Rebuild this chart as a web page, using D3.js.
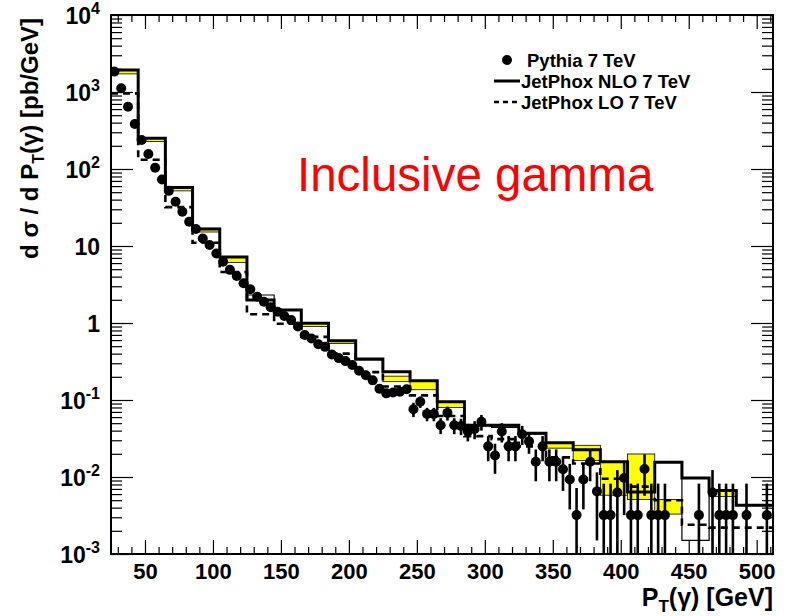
<!DOCTYPE html>
<html><head><meta charset="utf-8">
<script src="https://cdn.jsdelivr.net/npm/d3@7"></script>
<style>
body{margin:0;background:#fff;}
text{font-family:"Liberation Sans",Arial,Helvetica,sans-serif;}
</style></head><body>
<svg id="chart" width="786" height="616"></svg>
<script>
// visible P_T range (GeV)
const xDomain = [25, 512];
// JetPhox histogram bin edges (GeV); the last bin runs past the frame
const nloEdges = [25,45,65,85,105,125,145,165,185,205,225,245,265,285,305,325,345,365,385,405,425,445,465,485,525];
// JetPhox NLO central prediction per bin (pb/GeV)
const nloValues = [1930,250,57.5,16.6,7.2,1.99,1.48,0.99,0.59,0.34,0.233,0.178,0.095,0.047,0.047,0.037,0.0278,0.0226,0.0158,0.0064,0.0156,0.0097,0.0067,0.0043];
// alternative NLO curve (thin line)
const nloAltValues = [1930,250,57.5,16.6,7.2,2.31,1.48,0.99,0.59,0.34,0.233,0.178,0.095,0.047,0.044,0.037,0.0278,0.0226,0.0158,0.0064,0.0156,0.0015,0.0067,0.0043];
// NLO scale-uncertainty band
const bandLow  = [1720,228,52,15.2,6.1,1.97,1.45,0.9,0.54,0.33,0.173,0.136,0.080,0.046,0.046,0.036,0.0237,0.0164,0.0058,0.0051,0.0033,0.0097,0.0056,0.0043];
const bandHigh = [1950,256,59.5,17.0,7.2,2.0,1.48,0.99,0.59,0.34,0.204,0.178,0.095,0.047,0.047,0.037,0.0278,0.0258,0.0158,0.0199,0.0051,0.0097,0.0067,0.0043];
// JetPhox LO prediction per bin
const loValues = [960,132,32,11,4.6,1.3,0.98,0.66,0.4,0.23,0.15,0.115,0.062,0.034,0.031,0.025,0.018,0.015,0.0095,0.0075,0.005,0.0024,0.0022,0.0022];

// Pythia, 5 GeV bins starting at 25 GeV (null = empty bin)
const pythiaFirstEdge = 25, pythiaBinWidth = 5;
const pythiaValues = [
 1840,1120,645,384,238,157,104,73,52,37.6,
 27.9,20.7,16.6,12.5,10.3,8.0,6.25,4.9,4.07,3.28,
 2.74,2.2,1.89,1.6,1.4,1.23,1.09,0.90,0.70,0.63,
 0.53,0.49,0.39,0.35,0.32,0.285,0.24,0.21,0.18,0.14,
 0.122,0.125,0.128,0.138,0.076,0.095,0.066,0.066,0.047,0.068,
 0.047,0.046,0.039,0.042,0.052,0.025,0.019,0.039,0.025,0.025,
 0.036,0.029,0.0158,0.025,0.0158,0.0158,0.0126,0.0093,0.0032,0.0093,
 0.0158,0.0065,0.0032,0.0032,0.0063,0.0097,0.0032,0.0032,0.0127,0.0032,
 0.0032,0.0032,null,null,null,null,0.0032,null,0.0063,0.0032,
 0.0032,0.0032,null,0.0032,null,null,0.0032];
const pythiaErrors = [
 30,20,12,7,5,3,2.2,1.6,1.2,0.9,
 0.7,0.55,0.45,0.38,0.3,0.25,0.2,0.17,0.15,0.12,
 0.11,0.09,0.08,0.07,0.065,0.06,0.055,0.05,0.04,0.037,
 0.033,0.031,0.027,0.025,0.024,0.022,0.02,0.019,0.017,0.015,
 0.014,0.014,0.015,0.016,0.016,0.016,0.013,0.013,0.011,0.014,
 0.011,0.011,0.01,0.011,0.012,0.009,0.008,0.011,0.009,0.009,
 0.01,0.009,0.007,0.009,0.007,0.007,0.006,0.0055,0.004,0.0055,
 0.007,0.005,0.005,0.005,0.006,0.0065,0.005,0.005,0.007,0.005,
 0.005,0.005,null,null,null,null,0.005,null,0.006,0.005,
 0.005,0.005,null,0.005,null,null,0.005];

// axis ticks
const xMajorTicks = [50,100,150,200,250,300,350,400,450,500];
const yMajorTicks = [1e-3,1e-2,1e-1,1,10,1e2,1e3,1e4];
const yTickLabels = [["10","-3"],["10","-2"],["10","-1"],["1",""],["10",""],["10","2"],["10","3"],["10","4"]];

const legendLabels = ["Pythia 7 TeV","JetPhox NLO 7 TeV","JetPhox LO 7 TeV"];
const annotation = "Inclusive gamma";

const frame = {left:111, right:773, top:15, bottom:554};
const x = d3.scaleLinear().domain(xDomain).range([frame.left, frame.right]);
const y = d3.scaleLog().domain([1e-3,1e4]).range([frame.bottom, frame.top]);

const svg = d3.select('#chart');
svg.append('rect').attr('width',786).attr('height',616).attr('fill','#fff');
svg.append('defs').append('clipPath').attr('id','plotclip').append('rect')
  .attr('x',frame.left).attr('y',frame.top)
  .attr('width',frame.right-frame.left).attr('height',frame.bottom-frame.top);

const plot = svg.append('g').attr('clip-path','url(#plotclip)');
const bins = nloValues.map((v,i)=>({i, x0:nloEdges[i], x1:nloEdges[i+1]}));

// uncertainty band
plot.selectAll('rect.band').data(bins).join('rect').attr('class','band')
  .attr('x',d=>x(d.x0)).attr('width',d=>x(d.x1)-x(d.x0))
  .attr('y',d=>y(bandHigh[d.i])).attr('height',d=>Math.max(0.5,y(bandLow[d.i])-y(bandHigh[d.i])))
  .attr('fill','#ffff00').attr('stroke','#000').attr('stroke-width',0.8);

function stepPoints(vals){
  const pts=[];
  vals.forEach((v,i)=>{pts.push([x(nloEdges[i]),y(v)]);pts.push([x(nloEdges[i+1]),y(v)]);});
  return pts;
}
const line = d3.line();

plot.append('path').attr('d',line(stepPoints(nloAltValues)))
  .attr('fill','none').attr('stroke','#000').attr('stroke-width',1.2);
plot.append('path').attr('d',line(stepPoints(loValues)))
  .attr('fill','none').attr('stroke','#000').attr('stroke-width',2.6).attr('stroke-dasharray','7,5');
plot.append('path').attr('d',line(stepPoints(nloValues)))
  .attr('fill','none').attr('stroke','#000').attr('stroke-width',3);

// Pythia points with error bars
const pts = pythiaValues.map((v,i)=>({v, e:pythiaErrors[i], c:pythiaFirstEdge+pythiaBinWidth*(i+0.5)})).filter(d=>d.v!==null);
plot.selectAll('line.err').data(pts).join('line').attr('class','err')
  .attr('x1',d=>x(d.c)).attr('x2',d=>x(d.c))
  .attr('y1',d=>y(d.v+d.e)).attr('y2',d=>d.v-d.e>1e-4 ? y(d.v-d.e) : frame.bottom+5)
  .attr('stroke','#000').attr('stroke-width',2.6);
plot.selectAll('circle.pt').data(pts).join('circle').attr('class','pt')
  .attr('cx',d=>x(d.c)).attr('cy',d=>y(d.v)).attr('r',5).attr('fill','#000');

// axes
const xMinorTicks = d3.range(30,512,10).filter(t=>!xMajorTicks.includes(t));
const yMinorTicks = [];
for (let e=-3;e<4;e++) for (let k=2;k<10;k++) yMinorTicks.push(k*Math.pow(10,e));

function styleAxis(g){
  g.select('.domain').remove();
  g.selectAll('.tick line').attr('stroke','#000').attr('stroke-width',1.2);
}
svg.append('g').attr('transform',`translate(0,${frame.bottom})`)
  .call(d3.axisBottom(x).tickValues(xMajorTicks).tickSizeInner(-14).tickSizeOuter(0).tickPadding(9).tickFormat(d3.format('d')))
  .call(styleAxis)
  .call(g=>g.selectAll('text').attr('font-size',22).attr('font-weight','bold').attr('fill','#000').attr('font-family','"Liberation Sans",Arial,sans-serif'));
svg.append('g').attr('transform',`translate(0,${frame.bottom})`)
  .call(d3.axisBottom(x).tickValues(xMinorTicks).tickSizeInner(-7).tickSizeOuter(0).tickFormat(''))
  .call(styleAxis);
svg.append('g').attr('transform',`translate(0,${frame.top})`)
  .call(d3.axisTop(x).tickValues(xMajorTicks).tickSizeInner(-14).tickSizeOuter(0).tickFormat(''))
  .call(styleAxis);
svg.append('g').attr('transform',`translate(0,${frame.top})`)
  .call(d3.axisTop(x).tickValues(xMinorTicks).tickSizeInner(-7).tickSizeOuter(0).tickFormat(''))
  .call(styleAxis);

const yAxisL = svg.append('g').attr('transform',`translate(${frame.left},0)`)
  .call(d3.axisLeft(y).tickValues(yMajorTicks).tickSizeInner(-22).tickSizeOuter(0).tickPadding(11).tickFormat(''))
  .call(styleAxis);
yAxisL.selectAll('.tick text').each(function(d,i){
  const t = d3.select(this).attr('font-size',23).attr('font-weight','bold').attr('fill','#000')
    .attr('font-family','"Liberation Sans",Arial,sans-serif').attr('dy','0.36em');
  const lab = yTickLabels[i];
  t.text(null);
  t.append('tspan').text(lab[0]);
  if (lab[1]) t.append('tspan').attr('font-size',16).attr('dy','-0.6em').text(lab[1]);
});
svg.append('g').attr('transform',`translate(${frame.left},0)`)
  .call(d3.axisLeft(y).tickValues(yMinorTicks).tickSizeInner(-11).tickSizeOuter(0).tickFormat(''))
  .call(styleAxis);
svg.append('g').attr('transform',`translate(${frame.right},0)`)
  .call(d3.axisRight(y).tickValues(yMajorTicks).tickSizeInner(-22).tickSizeOuter(0).tickFormat(''))
  .call(styleAxis);
svg.append('g').attr('transform',`translate(${frame.right},0)`)
  .call(d3.axisRight(y).tickValues(yMinorTicks).tickSizeInner(-11).tickSizeOuter(0).tickFormat(''))
  .call(styleAxis);

// frame
svg.append('rect').attr('x',frame.left).attr('y',frame.top)
  .attr('width',frame.right-frame.left).attr('height',frame.bottom-frame.top)
  .attr('fill','none').attr('stroke','#000').attr('stroke-width',2);

// axis titles
const yTitle = svg.append('text').attr('transform','translate(38,18) rotate(-90)')
  .attr('text-anchor','end').attr('font-size',24).attr('font-weight','bold').attr('fill','#000');
yTitle.append('tspan').text('d \u03C3 / d P');
yTitle.append('tspan').attr('font-size',16).attr('dy',6).text('T');
yTitle.append('tspan').attr('dy',-6).text('(\u03B3) [pb/GeV]');

const xTitle = svg.append('text').attr('x',frame.right).attr('y',606)
  .attr('text-anchor','end').attr('font-size',25).attr('font-weight','bold').attr('fill','#000');
xTitle.append('tspan').text('P');
xTitle.append('tspan').attr('font-size',17).attr('dy',6).text('T');
xTitle.append('tspan').attr('dy',-6).text('(\u03B3) [GeV]');

// legend
const legend = svg.append('g');
const rows = [60,81,102];
legend.append('circle').attr('cx',507).attr('cy',rows[0]).attr('r',5).attr('fill','#000');
legend.append('line').attr('x1',494).attr('x2',520).attr('y1',rows[1]).attr('y2',rows[1])
  .attr('stroke','#000').attr('stroke-width',3);
legend.append('line').attr('x1',494).attr('x2',520).attr('y1',rows[2]).attr('y2',rows[2])
  .attr('stroke','#000').attr('stroke-width',2.6).attr('stroke-dasharray','5,4');
legend.selectAll('text.leg').data(legendLabels).join('text').attr('class','leg')
  .attr('x',(d,i)=>i===0?527:521).attr('y',(d,i)=>rows[i]).attr('dy','0.36em')
  .attr('font-size',18.5).attr('font-weight','bold').attr('fill','#000').text(d=>d);

svg.append('text').attr('x',297).attr('y',191).attr('font-size',47.5).attr('fill','#ff0000').text(annotation);
</script>
</body></html>
